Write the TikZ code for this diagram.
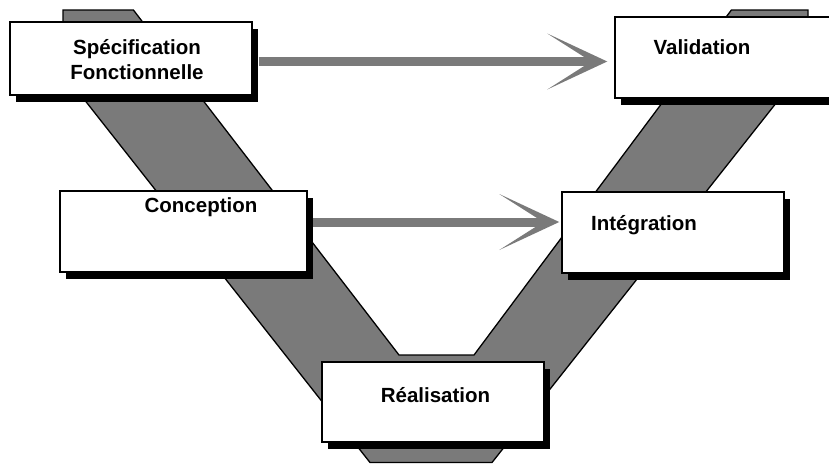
\documentclass[tikz,border=0pt]{standalone}
\usepackage{fontspec}
\setmainfont{Liberation Sans}
\usetikzlibrary{arrows.meta,shadows}
\definecolor{vgray}{gray}{0.48}

\begin{document}
\begin{tikzpicture}[x=1pt, y=-1pt,
 stage/.style={draw=black, line width=1.5pt, fill=white, inner sep=0pt,
  drop shadow={fill=black, opacity=1, shadow xshift=6pt, shadow yshift=-7pt}},
 stagetext/.style={font=\fontsize{20.5}{25}\selectfont\bfseries, align=center, inner sep=0pt},
 flow/.style={draw=vgray, line width=9pt,
  -{Stealth[length=60pt, width=56pt, inset=44pt, line width=0pt, fill=vgray]}}]
 \clip (0,0) rectangle (829,464);
 \filldraw[fill=vgray, draw=black, line width=1.3pt]
  (63,10) -- (133.4,10) -- (399,355) -- (474,355) -- (731.4,10) -- (808,10)
  -- (808,62.7) -- (492,462.5) -- (370,462.5) -- (63.4,73) -- cycle;
 \node[stage, minimum width=242pt, minimum height=73pt] (spec) at (131,58.5) {};
 \node[stage, minimum width=235pt, minimum height=81pt] (valid) at (732.5,57.5) {};
 \node[stage, minimum width=247pt, minimum height=81pt] (conc) at (183.5,231.5) {};
 \node[stage, minimum width=222pt, minimum height=81pt] (integ) at (673,232.5) {};
 \node[stage, minimum width=222pt, minimum height=80pt] (real) at (433,402) {};
 \node[stagetext] (spec-text) at ([xshift=6pt, yshift=-1pt]spec.center) {Spécification\\Fonctionnelle};
 \node[stagetext] (valid-text) at ([xshift=-30.5pt, yshift=10.5pt]valid.center) {Validation};
 \node[stagetext] (conc-text) at ([xshift=17.5pt, yshift=24.5pt]conc.center) {Conception};
 \node[stagetext] (integ-text) at ([xshift=-29pt, yshift=7.5pt]integ.center) {Intégration};
 \node[stagetext] (real-text) at ([xshift=2.5pt, yshift=7pt]real.center) {Réalisation};
 \draw[flow] ([xshift=6pt, yshift=-3pt]spec.east) -- ([xshift=-7pt, yshift=-3pt]spec.east -| valid.west);
 \draw[flow] ([xshift=5pt, yshift=9.5pt]conc.east) -- ([xshift=-2pt, yshift=9.5pt]conc.east -| integ.west);
\end{tikzpicture}
\end{document}
